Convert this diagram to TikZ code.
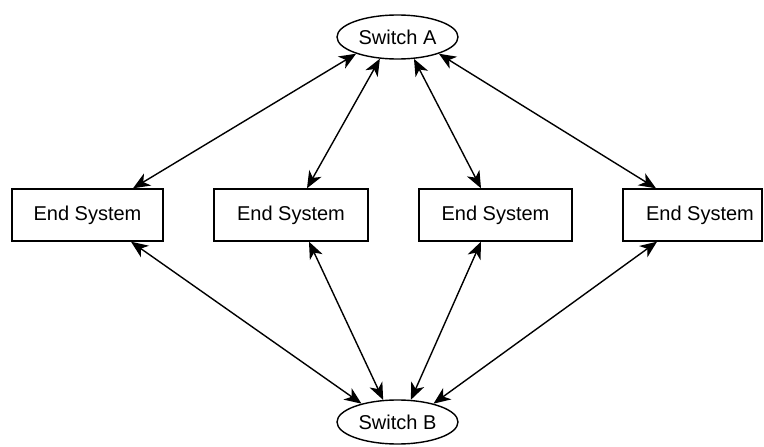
\documentclass[tikz,border=0pt]{standalone}
\usepackage{fontspec}
\setmainfont{Liberation Sans}
\usetikzlibrary{shapes.geometric,arrows.meta,calc}
\begin{document}
\begin{tikzpicture}[x=1pt,y=-1pt,
  sw/.style={ellipse,draw,line width=1.4pt,minimum width=121pt,minimum height=44pt,inner sep=0pt,font=\fontsize{20}{24}\selectfont},
  es/.style={rectangle,draw,line width=1.4pt,minimum height=52pt,inner sep=0pt,font=\fontsize{20}{24}\selectfont},
  link/.style={line width=1.4pt,{Stealth[length=17pt,width=14pt,inset=5pt]}-{Stealth[length=17pt,width=14pt,inset=5pt]}}]
\useasboundingbox (0,0) rectangle (764,447);
\node[sw] (A) at (397.5,37) {Switch A};
\node[sw] (B) at (397.5,422) {Switch B};
\node[es,minimum width=151pt] (b1) at (87.5,215) {End System};
\node[es,minimum width=154pt] (b2) at (291,215) {End System};
\node[es,minimum width=153pt] (b3) at (495.5,215) {End System};
\node[es,minimum width=139pt] (b4) at (692.5,215) {\hspace*{15pt}End System};
\draw[link] (A.202) -- ([xshift=45.5pt]b1.north);
\draw[link] (A.231) -- ([xshift=16pt]b2.north);
\draw[link] (A.307) -- ([xshift=-14.5pt]b3.north);
\draw[link] (A.338) -- ([xshift=-36.5pt]b4.north);
\draw[link] (B.153) -- ([xshift=43.5pt]b1.south);
\draw[link] (B.123) -- ([xshift=18pt]b2.south);
\draw[link] (B.59) -- ([xshift=-14.5pt]b3.south);
\draw[link] (B.27) -- ([xshift=-35.5pt]b4.south);
\end{tikzpicture}
\end{document}
